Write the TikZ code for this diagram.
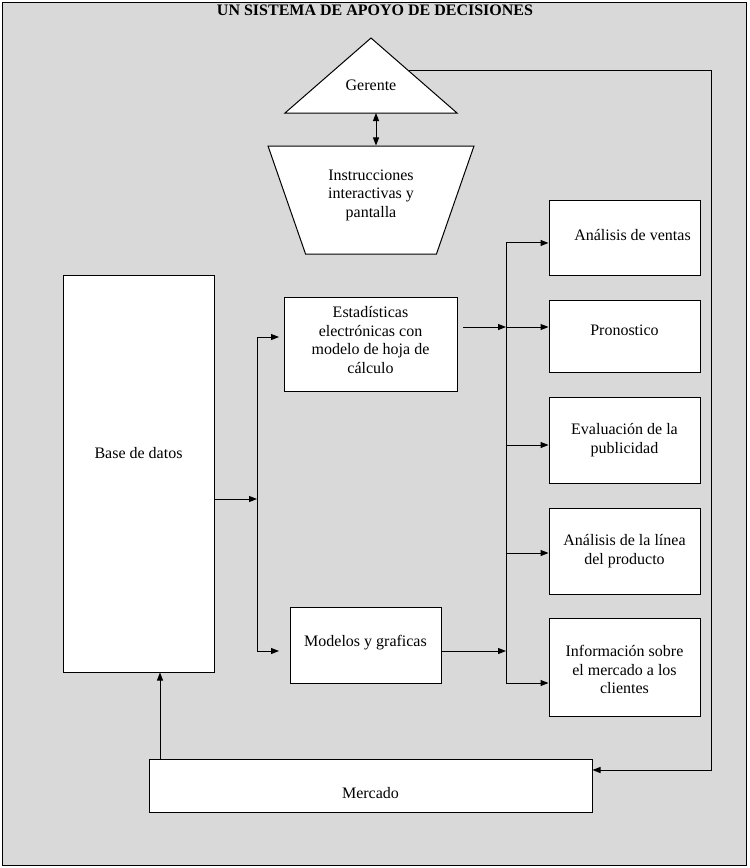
\documentclass[tikz,border=0pt]{standalone}
\usepackage{fontspec}
\setmainfont{Liberation Serif}
\usetikzlibrary{arrows.meta,shapes.geometric}
\definecolor{fondo}{RGB}{217,217,217}
\begin{document}
\begin{tikzpicture}[x=0.75pt, y=-0.75pt, line width=0.75pt,
    >={Triangle[length=6pt,width=4.5pt]},
    font=\fontsize{12}{13.8}\selectfont,
    caja/.style={draw, fill=white, align=center, minimum width=113.25pt},
    txt/.style={align=center}]
  \useasboundingbox (0,0) rectangle (750,868);
  \draw[fill=fondo] (2,2) rectangle (746,865);
  \node[font=\fontsize{12}{13.8}\selectfont\bfseries] (titulo) at (375,10) {UN SISTEMA DE APOYO DE DECISIONES};

  \draw[fill=white] (371,38) -- (457,113) -- (285,113) -- cycle;
  \node (gerente) at (371,85) {Gerente};
  \coordinate (ger-s) at (376,113);
  \coordinate (ger-r) at (409,70);
  \node[draw, fill=white, trapezium, shape border rotate=180, trapezium left angle=74, trapezium right angle=74, trapezium stretches=true, minimum width=154.5pt, minimum height=81pt] (instr) at (371,200) {};
  \node[txt] (instr-t) at ([yshift=3.5pt]instr.center) {Instrucciones\\ interactivas y\\ pantalla};

  \node[caja, minimum height=297.75pt] (base) at (138.5,473.5) {};
  \node (base-t) at ([yshift=15pt]base.center) {Base de datos};
  \node[caja, minimum width=129.75pt, minimum height=70.5pt] (estad) at (370.5,344) {};
  \node[txt] (estad-t) at ([yshift=3pt]estad.center) {Estadísticas\\ electrónicas con\\ modelo de hoja de\\ cálculo};
  \node[caja, minimum height=57pt] (modelos) at (365.5,645) {};
  \node (modelos-t) at ([yshift=1.5pt]modelos.center) {Modelos y graficas};

  \node[caja, minimum height=56.25pt] (ventas) at (624.5,237.5) {};
  \node (ventas-t) at ([xshift=6pt,yshift=1.5pt]ventas.center) {Análisis de ventas};
  \node[caja, minimum height=54pt] (pron) at (624.5,336) {};
  \node (pron-t) at ([yshift=4.5pt]pron.center) {Pronostico};
  \node[caja, minimum height=64.5pt] (evalu) at (624.5,440) {Evaluación de la\\ publicidad};
  \node[caja, minimum height=64.5pt] (linea) at (624.5,551) {Análisis de la línea\\ del producto};
  \node[caja, minimum height=73.5pt] (info) at (624.5,667) {};
  \node[txt] (info-t) at ([yshift=-2pt]info.center) {Información sobre\\ el mercado a los\\ clientes};

  \node[caja, minimum width=332.25pt, minimum height=39.75pt] (merc) at (370.5,785.5) {};
  \node (merc-t) at ([yshift=-6pt]merc.center) {Mercado};

  \draw[<->] (ger-s) -- (ger-s |- instr.north);
  \coordinate (fb) at (711,770);
  \draw[->] (ger-r) -| (fb) -- (fb -| merc.east);
  \coordinate (sube) at (160,0);
  \draw[->] (sube |- merc.north) -- (sube |- base.south);

  \coordinate (lbus) at (257,499);
  \coordinate (estad-in) at (279,337);
  \coordinate (mod-in) at (279,651);
  \draw[->] (base.east |- lbus) -- (lbus);
  \draw[->] (lbus) |- (estad-in);
  \draw[->] (lbus) |- (mod-in);

  \coordinate (rbus-a) at (506,243);
  \coordinate (rbus-b) at (506,683);
  \coordinate (estad-out) at (463,327);
  \coordinate (mod-out) at (506,651);
  \draw (rbus-a) -- (rbus-b);
  \draw[->] (estad-out) -- (estad-out -| rbus-a);
  \draw[->] ([yshift=-4.5pt]modelos.east) -- (mod-out);
  \foreach \n/\dy in {ventas/-4.1, pron/6.75, evalu/-3.75, linea/-1.5, info/-12}
    \draw[<-] ([yshift=\dy pt]\n.west) -- ++(-43,0);
\end{tikzpicture}
\end{document}
